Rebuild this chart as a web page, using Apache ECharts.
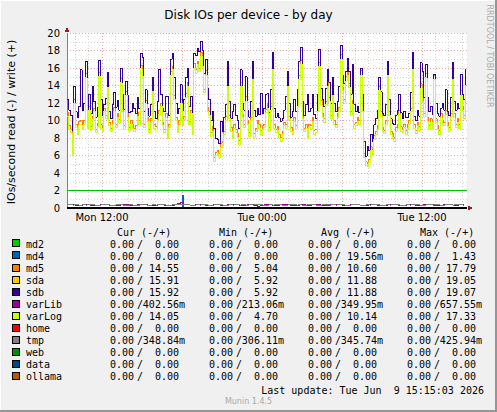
<!DOCTYPE html>
<html><head><meta charset="utf-8">
<script src="https://cdn.jsdelivr.net/npm/echarts@6/dist/echarts.min.js"></script>
<style>html,body{margin:0;padding:0;background:#F0F0F0;}#c{width:497px;height:412px;}
#c svg path{shape-rendering:crispEdges;}</style>
</head><body><div id="c"></div>
<script>
// ---- time axis (hours since Mon 00:00) ----
const startHour = 9.375;   // Mon 09:22:30 (left edge)
const endHour = 39.375;    // Tue 15:22:30 (right edge)
const stepHours = 0.125;   // main disks: one sample per 7.5 min
const smallStepHours = 0.25; // small devices: one sample per 15 min
const xTickHours = [12, 24, 36];
const xTickLabels = ['Mon 12:00', 'Tue 00:00', 'Tue 12:00'];
const minorGridHours = [10,11,13,14,15,16,17,19,20,21,22,23,25,26,27,28,29,31,32,33,34,35,37,38,39];
const majorGridHours = [12,18,24,30,36];
const yMin = 0, yMax = 20, yStep = 2;
const greenRuleValue = 2;
const zeroRuleValue = 0;

// ---- write (+) values, IOs/second ----
const sdbWrite = [
12.4,11.2, 10.6,8.9, 13.9,11.0, 10.4,11.6, 15.8,11.2, 12.0,16.8, 10.9,13.0, 10.8,13.9, 12.2,10.4, 11.5,16.9,
12.4,10.6, 11.8,12.5, 15.5,11.0, 10.2,11.8, 13.2,11.5, 12.3,11.2, 16.0,13.0, 11.3,14.5, 12.9,10.9, 11.0,12.0,
11.4,10.8, 12.6,11.4, 17.7,17.2, 11.0,13.5, 11.4,10.5, 11.8,14.9, 11.0,10.2, 12.2,15.8, 13.0,11.4, 11.0,12.8,
12.8,10.6, 17.0,17.7, 14.9,12.0, 10.8,11.4, 14.1,11.2, 12.4,14.9, 16.0,11.6, 12.8,10.9, 17.7,17.4, 18.2,17.9,
19.07,18.0, 15.4,17.0, 13.7,12.4, 10.0,11.0, 9.1,8.0, 7.8,7.4, 9.9,8.8, 10.4,11.8, 16.8,12.2, 10.2,11.0,
11.8,10.6, 10.0,9.1, 15.8,12.0, 11.2,15.0, 11.2,10.4, 12.2,16.8, 11.2,10.5, 11.4,10.7, 13.1,10.8, 11.4,13.0,
13.1,10.9, 13.5,17.8, 11.4,10.4, 10.8,10.3, 9.9,10.2, 11.2,12.8, 15.6,12.0, 10.4,11.0, 12.4,11.0, 13.6,16.8,
18.4,12.2, 10.6,11.8, 13.0,11.0, 11.4,13.0, 10.7,10.2, 13.0,18.1, 13.7,12.4, 11.6,13.7, 15.8,14.4, 12.0,14.9,
12.0,11.0, 12.2,13.9, 18.6,15.2, 14.2,15.6, 17.1,15.6, 13.0,16.4, 11.8,11.0, 11.6,10.9, 16.0,13.0, 7.6,5.92,
7.0,6.6, 8.4,7.6, 9.5,10.2, 11.2,14.9, 13.3,10.8, 10.6,11.8, 16.8,12.4, 10.2,9.7, 9.5,10.6, 11.2,13.0,
10.9,10.2, 11.0,10.3, 10.3,10.8, 13.2,17.8, 10.5,10.0, 11.2,10.5, 16.6,15.6, 12.6,16.4, 12.6,11.0, 11.6,10.7,
15.3,12.0, 10.8,10.5, 11.4,12.0, 11.2,13.5, 11.0,10.6, 12.6,16.6, 12.2,11.2, 12.0,11.4, 15.3,13.0, 12.4,15.92];
const sdaWrite = [
12.4,11.2, 10.6,8.9, 13.9,11.0, 10.4,11.6, 15.8,11.2, 12.0,16.8, 10.9,13.0, 10.8,13.9, 12.2,10.4, 11.5,16.9,
12.4,10.6, 11.8,12.5, 15.5,11.0, 10.2,11.8, 13.2,11.5, 12.3,11.2, 16.0,13.0, 11.3,14.5, 12.9,10.9, 11.0,12.0,
11.4,10.8, 12.6,11.4, 17.7,17.2, 11.0,13.5, 11.4,10.5, 11.8,14.9, 11.0,10.2, 12.2,15.8, 13.0,11.4, 11.0,12.8,
12.8,10.6, 17.0,17.7, 14.9,12.0, 10.8,11.4, 14.1,11.2, 12.4,14.9, 16.0,11.6, 12.8,10.9, 17.7,17.4, 18.2,17.9,
19.05,18.0, 15.4,17.0, 13.7,12.4, 10.0,11.0, 9.1,8.0, 7.8,7.4, 9.9,8.8, 10.4,11.8, 16.8,12.2, 10.2,11.0,
11.8,10.6, 10.0,9.1, 15.8,12.0, 11.2,15.0, 11.2,10.4, 12.2,16.8, 11.2,10.5, 11.4,10.7, 13.1,10.8, 11.4,13.0,
13.1,10.9, 13.5,17.8, 11.4,10.4, 10.8,10.3, 9.9,10.2, 11.2,12.8, 15.6,12.0, 10.4,11.0, 12.4,11.0, 13.6,16.8,
18.4,12.2, 10.6,11.8, 13.0,11.0, 11.4,13.0, 10.7,10.2, 13.0,18.1, 13.7,12.4, 11.6,13.7, 15.8,14.4, 12.0,14.9,
12.0,11.0, 12.2,13.9, 18.6,15.2, 14.2,15.6, 17.1,15.6, 13.0,16.4, 11.8,11.0, 11.6,10.9, 16.0,13.0, 7.6,5.92,
7.0,6.6, 8.4,7.6, 9.5,10.2, 11.2,14.9, 13.3,10.8, 10.6,11.8, 16.8,12.4, 10.2,9.7, 9.5,10.6, 11.2,13.0,
10.9,10.2, 11.0,10.3, 10.3,10.8, 13.2,17.8, 10.5,10.0, 11.2,10.5, 16.6,15.6, 12.6,16.4, 12.6,11.0, 11.6,10.7,
15.3,12.0, 10.8,10.5, 11.4,12.0, 11.2,13.5, 11.0,10.6, 12.6,16.6, 12.2,11.2, 12.0,11.4, 15.3,13.0, 12.4,15.91];
const md5Write = [
10.9,9.4, 9.0,6.6, 12.4,9.6, 8.8,9.9, 10.0,9.4, 10.0,15.4, 9.6,11.6, 9.3,10.5, 11.4,9.0, 9.7,15.5,
9.5,9.2, 11.4,10.6, 14.2,9.8, 9.1,10.0, 11.5,9.6, 10.8,10.1, 14.8,11.4, 9.4,13.3, 10.8,9.2, 10.0,9.5,
9.1,9.4, 10.9,10.0, 16.3,15.4, 9.6,12.3, 10.4,9.0, 10.2,13.7, 9.6,9.3, 10.4,11.2, 12.0,9.8, 9.0,10.8,
8.5,9.6, 15.6,16.2, 12.9,10.4, 9.0,10.0, 12.4,9.8, 10.5,13.1, 14.4,9.9, 11.2,8.8, 16.5,15.8, 16.8,16.0,
17.79,16.6, 13.6,15.7, 11.5,11.0, 8.6,9.3, 5.8,6.4, 6.6,6.2, 7.4,7.6, 8.8,10.5, 14.4,10.6, 9.2,8.5,
9.6,9.0, 8.5,7.7, 14.3,10.7, 9.6,12.7, 10.0,8.6, 10.4,15.2, 8.5,9.1, 10.0,9.6, 8.9,9.4, 9.6,11.3,
11.9,9.2, 11.6,16.3, 9.6,9.0, 9.3,8.4, 8.1,8.8, 9.8,9.6, 14.4,10.5, 9.2,8.9, 10.4,9.4, 12.0,15.2,
16.9,10.6, 9.1,9.6, 8.5,9.6, 9.4,10.4, 8.9,9.0, 11.4,16.6, 12.3,10.8, 10.2,12.2, 14.4,12.6, 10.6,13.4,
10.0,9.6, 10.8,11.5, 17.5,13.8, 12.4,15.0, 15.7,14.2, 11.0,12.3, 9.6,9.8, 10.3,10.0, 15.7,11.4, 6.2,5.3,
5.04,5.6, 7.0,6.5, 8.3,8.8, 9.4,13.9, 11.0,9.2, 8.9,10.0, 15.7,11.0, 8.8,8.5, 8.1,9.2, 9.5,11.2,
9.3,9.0, 9.6,8.9, 9.6,10.0, 11.4,16.3, 9.6,8.9, 9.8,9.3, 14.2,12.6, 10.8,15.4, 10.4,9.4, 10.2,9.6,
15.2,10.2, 9.4,8.9, 10.8,10.0, 9.8,11.2, 9.8,9.2, 10.8,15.2, 10.8,9.6, 10.2,9.6, 13.4,11.6, 10.6,14.55];
const varLogWrite = [
10.5,9.0, 8.6,6.0, 12.0,9.2, 8.4,9.5, 9.5,9.0, 9.6,14.9, 9.1,11.2, 8.9,10.1, 11.0,8.6, 9.3,15.0,
9.1,8.8, 11.0,10.2, 13.8,9.4, 8.7,9.5, 11.0,9.2, 10.4,9.7, 14.3,11.0, 9.0,12.9, 10.3,8.8, 9.6,9.1,
8.7,9.0, 10.5,9.5, 15.9,15.0, 9.2,11.9, 9.9,8.6, 9.8,13.3, 9.1,8.9, 10.0,10.7, 11.6,9.4, 8.6,10.3,
8.0,9.2, 15.2,15.8, 12.4,10.0, 8.6,9.5, 12.0,9.4, 10.1,12.6, 13.9,9.5, 10.8,8.4, 16.0,15.4, 16.4,15.6,
17.33,16.2, 13.2,15.2, 11.0,10.6, 8.2,8.8, 5.3,6.0, 6.2,5.7, 6.9,7.2, 8.4,10.0, 13.9,10.2, 8.8,8.0,
9.1,8.6, 8.1,7.2, 13.9,10.3, 9.2,12.2, 9.5,8.2, 10.0,14.7, 8.0,8.7, 9.6,9.1, 8.4,9.0, 9.2,10.9,
11.4,8.8, 11.2,15.8, 9.1,8.6, 8.9,8.0, 7.6,8.4, 9.4,9.1, 13.9,10.1, 8.8,8.4, 9.9,9.0, 11.6,14.7,
16.4,10.2, 8.7,9.1, 8.0,9.2, 9.0,9.9, 8.4,8.6, 11.0,16.2, 11.8,10.4, 9.8,11.8, 13.9,12.2, 10.2,12.9,
9.5,9.2, 10.4,11.0, 17.0,13.4, 12.0,14.5, 15.2,13.8, 10.6,11.8, 9.1,9.4, 9.9,9.5, 15.2,11.0, 5.8,4.9,
4.70,5.2, 6.6,6.0, 7.8,8.4, 9.0,13.4, 10.5,8.8, 8.5,9.5, 15.2,10.6, 8.4,8.0, 7.6,8.8, 9.1,10.7,
8.8,8.6, 9.2,8.4, 9.1,9.6, 11.0,15.8, 9.1,8.5, 9.4,8.8, 13.7,12.2, 10.4,14.9, 9.9,9.0, 9.8,9.1,
14.7,9.8, 9.0,8.4, 10.3,9.6, 9.4,10.7, 9.3,8.8, 10.4,14.7, 10.3,9.2, 9.8,9.1, 12.9,11.2, 10.2,14.05];
const md4Write = [
0,0,0,0,0,0,0,0,0,0, 0,0,0,0,0,0,0,0,0,0,
0,0,0,0,0,0,0,0,0,0, 0,0,0,0,0,0,0,0,0,0,
0,0,0,0,0,0,0,0,0,0, 0,0,0,0,0,0,0,0,0,0,
0,0,0,0,0,0,0,0,0,1.43, 0,0,0,0,0,0,0,0,0,0,
0,0,0,0,0,0,0,0,0,0, 0,0,0,0,0,0,0,0,0,0,
0,0,0,0,0,0,0,0,0,0, 0,0,0,0,0,0,0,0,0,0,
0,0,0,0,0,0,0,0,0,0, 0,0,0,0,0,0,0,0,0,0,
0,0,0,0,0,0,0,0,0,0, 0,0,0,0,0,0,0,0,0,0,
0,0,0,0,0,0,0,0,0,0, 0,0,0,0,0,0,0,0,0,0,
0,0,0,0,0,0,0,0,0,0, 0,0,0,0,0,0,0,0,0,0,
0,0,0,0,0,0,0,0,0,0, 0,0,0,0,0,0,0,0,0,0,
0,0,0,0,0,0,0,0,0,0, 0,0,0,0,0,0,0,0,0,0];
const varLibWrite = [
0.42, 0.38, 0.31, 0.29, 0.36, 0.41, 0.33, 0.30, 0.28, 0.35,
0.44, 0.39, 0.32, 0.30, 0.27, 0.34, 0.40, 0.37, 0.31, 0.29,
0.33, 0.45, 0.42, 0.36, 0.30, 0.28, 0.32, 0.38, 0.35, 0.31,
0.29, 0.33, 0.37, 0.48, 0.66, 0.41, 0.34, 0.30, 0.38, 0.43,
0.36, 0.31, 0.29, 0.35, 0.40, 0.33, 0.30, 0.27, 0.36, 0.42,
0.38, 0.32, 0.30, 0.34, 0.39, 0.35, 0.31, 0.21, 0.33, 0.41,
0.37, 0.32, 0.29, 0.36, 0.43, 0.40, 0.34, 0.30, 0.28, 0.35,
0.38, 0.33, 0.31, 0.37, 0.42, 0.36, 0.30, 0.29, 0.34, 0.39,
0.44, 0.37, 0.32, 0.30, 0.35, 0.41, 0.38, 0.33, 0.29, 0.31,
0.36, 0.40, 0.34, 0.30, 0.28, 0.33, 0.38, 0.42, 0.35, 0.31,
0.29, 0.34, 0.39, 0.37, 0.32, 0.30, 0.36, 0.43, 0.40, 0.34,
0.31, 0.29, 0.35, 0.41, 0.38, 0.33, 0.30, 0.36, 0.42, 0.40];
const tmpWrite = [
0.35, 0.34, 0.36, 0.33, 0.35, 0.34, 0.37, 0.35, 0.33, 0.34,
0.36, 0.35, 0.34, 0.33, 0.35, 0.36, 0.34, 0.33, 0.35, 0.34,
0.31, 0.35, 0.36, 0.34, 0.33, 0.35, 0.34, 0.37, 0.35, 0.34,
0.33, 0.35, 0.36, 0.38, 0.43, 0.36, 0.34, 0.33, 0.35, 0.34,
0.36, 0.35, 0.33, 0.34, 0.35, 0.36, 0.34, 0.33, 0.35, 0.34,
0.35, 0.34, 0.36, 0.33, 0.35, 0.34, 0.35, 0.36, 0.34, 0.33,
0.35, 0.34, 0.36, 0.35, 0.33, 0.34, 0.35, 0.37, 0.34, 0.35,
0.33, 0.34, 0.36, 0.35, 0.34, 0.33, 0.35, 0.36, 0.34, 0.35,
0.34, 0.36, 0.35, 0.33, 0.34, 0.35, 0.36, 0.34, 0.33, 0.35,
0.34, 0.35, 0.36, 0.34, 0.33, 0.35, 0.34, 0.36, 0.35, 0.34,
0.33, 0.35, 0.34, 0.36, 0.35, 0.34, 0.33, 0.35, 0.36, 0.34,
0.35, 0.34, 0.33, 0.36, 0.35, 0.34, 0.35, 0.36, 0.34, 0.35];
// constant-zero devices: value at the first and last sample time
const zeroTimes = [9.375, 39.125];
const md2Write = [0, 0];
const homeWrite = [0, 0];
const webWrite = [0, 0];
const dataWrite = [0, 0];
const ollamaWrite = [0, 0];

// ---- legend table ----
const names = ['md2','md4','md5','sda','sdb','varLib','varLog','home','tmp','web','data','ollama'];
const colors = ['#00CC00','#0066B3','#FF8000','#FFCC00','#330099','#990099','#CCFF00','#FF0000','#808080','#008F00','#00487D','#B35A00'];
const statHeaders = ['Cur (-/+)', 'Min (-/+)', 'Avg (-/+)', 'Max (-/+)'];
const readStats = [
  [0,0,0,0,0,0,0,0,0,0,0,0],
  [0,0,0,0,0,0,0,0,0,0,0,0],
  [0,0,0,0,0,0,0,0,0,0,0,0],
  [0,0,0,0,0,0,0,0,0,0,0,0]];
const curWrite = [0, 0, 14.55, 15.91, 15.92, 0.40256, 14.05, 0, 0.34884, 0, 0, 0];
const minWrite = [0, 0, 5.04, 5.92, 5.92, 0.21306, 4.70, 0, 0.30611, 0, 0, 0];
const avgWrite = [0, 0.01956, 10.60, 11.88, 11.88, 0.34995, 10.14, 0, 0.34574, 0, 0, 0];
const maxWrite = [0, 1.43, 17.79, 19.05, 19.07, 0.65755, 17.33, 0, 0.42594, 0, 0, 0];
const writeStats = [curWrite, minWrite, avgWrite, maxWrite];
const lastUpdate = 'Last update: Tue Jun  9 15:15:03 2026';

// ---- build ----
const pts = arr => arr.map((v, i) => [startHour + i * stepHours, v]);
const spts = arr => arr.map((v, i) => [startHour + i * smallStepHours, v]);
const zpts = arr => arr.map((v, i) => [zeroTimes[i], v]);

const G = {left: 67, top: 33, right: 30, bottom: 204};
const MONO = '"DejaVu Sans Mono", monospace';
const SANS = '"DejaVu Sans", sans-serif';

function fmt(v) {
  if (v === 0) return {num: '0.00', suf: ''};
  if (v < 1) return {num: (v * 1000).toFixed(2), suf: 'm'};
  return {num: v.toFixed(2), suf: ''};
}
function txt(x, y, text, font, fill, align, valign, rot) {
  return {type: 'text', x: x, y: y, rotation: rot || 0, silent: true, z: 50,
    style: {text: text, font: font, fill: fill, align: align, textAlign: align,
            verticalAlign: valign, textVerticalAlign: valign}};
}

const graphics = [];
// frame
graphics.push({type:'rect', shape:{x:0,y:0,width:497,height:1}, style:{fill:'#FFFFFF'}, silent:true});
graphics.push({type:'rect', shape:{x:0,y:0,width:1,height:412}, style:{fill:'#FFFFFF'}, silent:true});
graphics.push({type:'rect', shape:{x:0,y:410,width:497,height:2}, style:{fill:'#969696'}, silent:true});
graphics.push({type:'rect', shape:{x:495,y:0,width:2,height:412}, style:{fill:'#969696'}, silent:true});
// axis names / captions
graphics.push(txt(11, 122, 'IOs/second read (-) / write (+)', '11px ' + SANS, '#000', 'center', 'middle', Math.PI / 2));
graphics.push(txt(489, 56, 'RRDTOOL / TOBI OETIKER', '8px ' + SANS, '#aaaaaa', 'center', 'middle', -Math.PI / 2));
graphics.push(txt(248.5, 401, 'Munin 1.4.5', '8px ' + SANS, '#aaaaaa', 'center', 'middle'));
graphics.push(txt(484, 390, lastUpdate, '10px ' + MONO, '#000', 'right', 'middle'));
// legend
const colX = [110, 209, 308, 407];
const headX = [117, 219, 321, 420];
const rowY0 = 244.4, rowStep = 12.05;
statHeaders.forEach((h, c) => graphics.push(txt(headX[c], 232.3, h, '10px ' + MONO, '#000', 'left', 'middle')));
names.forEach((n, r) => {
  const y = rowY0 + r * rowStep;
  graphics.push({type:'rect', shape:{x:12.5, y:Math.round(y) - 4.5, width:7, height:7},
    style:{fill: colors[r], stroke:'#000', lineWidth:1}, silent:true, z:50});
  graphics.push(txt(26, y, n, '10px ' + MONO, '#000', 'left', 'middle'));
  for (let c = 0; c < 4; c++) {
    const rd = fmt(readStats[c][r]);
    const wr = fmt(writeStats[c][r]);
    graphics.push(txt(colX[c], y, rd.num, '10px ' + MONO, '#000', 'left', 'middle'));
    graphics.push(txt(colX[c] + 33, y, '/', '10px ' + MONO, '#000', 'right', 'middle'));
    graphics.push(txt(colX[c] + 69 + (wr.suf ? 6 : 0), y, wr.num + wr.suf, '10px ' + MONO, '#000', 'right', 'middle'));
  }
});
// axis arrows
const plotRight = 497 - G.right, plotBottom = 412 - G.bottom;
graphics.push({type:'polygon', shape:{points:[[G.left-2.5, G.top-1],[G.left+2.5, G.top-1],[G.left, G.top-6]]}, style:{fill:'#A01818'}, silent:true, z:60});
graphics.push({type:'polygon', shape:{points:[[plotRight+1, plotBottom-2.5],[plotRight+1, plotBottom+2.5],[plotRight+6, plotBottom]]}, style:{fill:'#A01818'}, silent:true, z:60});

function lineSeries(name, color, data, extra) {
  return Object.assign({name: name, type: 'line', step: 'end', symbol: 'none', data: data,
    lineStyle: {width: 1, color: color}, itemStyle: {color: color}, z: 2, silent: true}, extra || {});
}

const option = {
  animation: false,
  backgroundColor: '#F0F0F0',
  title: {text: 'Disk IOs per device - by day', left: 'center', top: 4,
    textStyle: {fontFamily: SANS, fontSize: 12, fontWeight: 'normal', color: '#000'}},
  grid: Object.assign({backgroundColor: '#FFFFFF', show: true, borderWidth: 0}, G),
  xAxis: {type: 'value', min: startHour, max: endHour,
    axisLine: {show: true, onZero: false, lineStyle: {color: '#808080'}},
    axisTick: {show: false}, splitLine: {show: false},
    axisLabel: {customValues: xTickHours, margin: 4, fontFamily: SANS, fontSize: 10, color: '#000',
      formatter: v => { const k = xTickHours.indexOf(v); return k >= 0 ? xTickLabels[k] : ''; }}},
  yAxis: {type: 'value', min: yMin, max: yMax, interval: yStep,
    axisLine: {show: true, lineStyle: {color: '#808080'}},
    axisTick: {show: false},
    axisLabel: {margin: 7, fontFamily: SANS, fontSize: 10, color: '#000'},
    splitLine: {show: true, lineStyle: {color: '#F2A8A8', type: [1, 2]}},
    minorTick: {show: false, splitNumber: 2},
    minorSplitLine: {show: true, lineStyle: {color: '#D4D4D4', type: [1, 2]}}},
  graphic: graphics,
  series: [
    lineSeries('md2', colors[0], zpts(md2Write), {markLine: {silent: true, z: 1, symbol: ['none','none'], label: {show: false},
      data: minorGridHours.map(h => ({xAxis: h, lineStyle: {color: '#D4D4D4', type: [1, 2], width: 1}}))
        .concat(majorGridHours.map(h => ({xAxis: h, lineStyle: {color: '#F2A8A8', type: [1, 2], width: 1}})))}}),
    lineSeries('md4', colors[1], pts(md4Write)),
    lineSeries('md5', colors[2], pts(md5Write)),
    lineSeries('sda', colors[3], pts(sdaWrite)),
    lineSeries('sdb', colors[4], pts(sdbWrite)),
    lineSeries('varLib', colors[5], spts(varLibWrite)),
    lineSeries('varLog', colors[6], pts(varLogWrite)),
    lineSeries('home', colors[7], zpts(homeWrite)),
    lineSeries('tmp', colors[8], spts(tmpWrite)),
    lineSeries('web', colors[9], zpts(webWrite)),
    lineSeries('data', colors[10], zpts(dataWrite)),
    lineSeries('ollama', colors[11], zpts(ollamaWrite), {markLine: {silent: true, z: 6, symbol: ['none','none'], label: {show: false},
      data: [{yAxis: greenRuleValue, lineStyle: {color: '#00C000', type: 'solid', width: 1}},
             {yAxis: zeroRuleValue, lineStyle: {color: '#000000', type: 'solid', width: 2}}]}})
  ]
};
const chart = echarts.init(document.getElementById('c'), null, {renderer: 'svg'});
chart.setOption(option);
</script></body></html>
